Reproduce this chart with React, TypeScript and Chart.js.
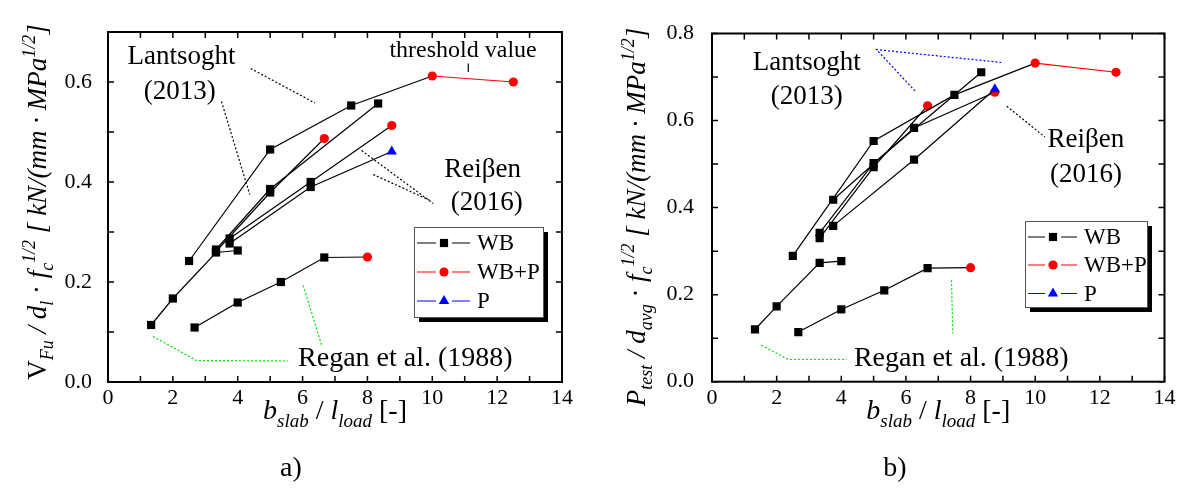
import { useEffect, useRef } from 'react';
import { Chart, registerables } from 'chart.js';

Chart.register(...registerables);

const FONT = '"Liberation Serif", "Times New Roman", Times, serif';
const BLACK = '#000000';
const RED = '#ff0000';
const BLUE = '#0000ff';
const GREEN = '#00e000';

// ---------------- Panel a) data ----------------
const aLant1X = [2.5, 5, 7.5, 10, 12.5];
const aLant1Y = [0.242, 0.465, 0.553, 0.612, 0.6];
const aLant1T = ['WB', 'WB', 'WB', 'WB+P', 'WB+P'];
const aLant2X = [3.33, 5, 8.33];
const aLant2Y = [0.265, 0.386, 0.557];
const aLant2T = ['WB', 'WB', 'WB'];
const aLant3X = [3.33, 5, 6.67];
const aLant3Y = [0.261, 0.379, 0.487];
const aLant3T = ['WB', 'WB', 'WB+P'];
const aReis1X = [3.75, 6.25, 8.75];
const aReis1Y = [0.287, 0.4, 0.513];
const aReis1T = ['WB', 'WB', 'WB+P'];
const aReis2X = [3.75, 6.25, 8.75];
const aReis2Y = [0.277, 0.39, 0.461];
const aReis2T = ['WB', 'WB', 'P'];
const aRegan1X = [1.33, 2, 3.33, 4];
const aRegan1Y = [0.114, 0.167, 0.259, 0.263];
const aRegan1T = ['WB', 'WB', 'WB', 'WB'];
const aRegan2X = [2.67, 4, 5.33, 6.67, 8];
const aRegan2Y = [0.109, 0.159, 0.2, 0.249, 0.25];
const aRegan2T = ['WB', 'WB', 'WB', 'WB', 'WB+P'];

// ---------------- Panel b) data ----------------
const bLant1X = [2.5, 5, 7.5, 10, 12.5];
const bLant1Y = [0.289, 0.553, 0.659, 0.732, 0.711];
const bLant1T = ['WB', 'WB', 'WB', 'WB+P', 'WB+P'];
const bLant2X = [3.33, 5, 8.33];
const bLant2Y = [0.342, 0.502, 0.711];
const bLant2T = ['WB', 'WB', 'WB'];
const bLant3X = [3.33, 5, 6.67];
const bLant3Y = [0.33, 0.493, 0.634];
const bLant3T = ['WB', 'WB', 'WB+P'];
const bReis1X = [3.75, 6.25, 8.75];
const bReis1Y = [0.418, 0.583, 0.665];
const bReis1T = ['WB', 'WB', 'WB+P'];
const bReis2X = [3.75, 6.25, 8.75];
const bReis2Y = [0.358, 0.51, 0.672];
const bReis2T = ['WB', 'WB', 'P'];
const bRegan1X = [1.33, 2, 3.33, 4];
const bRegan1Y = [0.12, 0.173, 0.273, 0.277];
const bRegan1T = ['WB', 'WB', 'WB', 'WB'];
const bRegan2X = [2.67, 4, 5.33, 6.67, 8];
const bRegan2Y = [0.114, 0.166, 0.21, 0.261, 0.262];
const bRegan2T = ['WB', 'WB', 'WB', 'WB', 'WB+P'];

const legendLabels = ['WB', 'WB+P', 'P'];
const xMax = 14;

type Run = { t: string; it?: boolean; sub?: boolean; sup?: boolean };

const X_TITLE: Run[] = [
  { t: 'b', it: true },
  { t: 'slab', it: true, sub: true },
  { t: ' / ' },
  { t: 'l', it: true },
  { t: 'load', it: true, sub: true },
  { t: ' [-]' },
];

const Y_TITLE_A: Run[] = [
  { t: 'V' },
  { t: 'Fu', it: true, sub: true },
  { t: ' / ', it: true },
  { t: 'd', it: true },
  { t: 'l', it: true, sub: true },
  { t: ' · ' },
  { t: 'f', it: true },
  { t: 'c', it: true, sub: true },
  { t: '1/2', it: true, sup: true },
  { t: ' [ kN/(mm · MPa', it: true },
  { t: '1/2', it: true, sup: true },
  { t: ']', it: true },
];

const Y_TITLE_B: Run[] = [
  { t: 'P', it: true },
  { t: 'test', it: true, sub: true },
  { t: ' / ', it: true },
  { t: 'd', it: true },
  { t: 'avg', it: true, sub: true },
  { t: ' · ' },
  { t: 'f', it: true },
  { t: 'c', it: true, sub: true },
  { t: '1/2', it: true, sup: true },
  { t: ' [ kN/(mm · MPa', it: true },
  { t: '1/2', it: true, sup: true },
  { t: ']', it: true },
];

function colorOf(t: string) {
  return t === 'WB' ? BLACK : t === 'WB+P' ? RED : BLUE;
}
function styleOf(t: string) {
  return t === 'WB' ? 'rect' : t === 'WB+P' ? 'circle' : 'triangle';
}
function radiusOf(t: string) {
  return t === 'WB' ? 5.8 : t === 'WB+P' ? 4.6 : 6;
}

function makeDataset(xs: number[], ys: number[], ts: string[]) {
  return {
    data: xs.map((x, i) => ({ x, y: ys[i] })),
    showLine: true,
    borderColor: BLACK,
    borderWidth: 1.2,
    pointStyle: ts.map(styleOf),
    pointRadius: ts.map(radiusOf),
    pointBackgroundColor: ts.map(colorOf),
    pointBorderColor: ts.map(colorOf),
    pointBorderWidth: 0,
    segment: {
      borderColor: (c: any) =>
        ts[c.p0DataIndex] === 'WB+P' && ts[c.p1DataIndex] === 'WB+P' ? RED : BLACK,
    },
  };
}

function runFont(r: Run, size: number) {
  const s = r.sub || r.sup ? Math.round(size * 0.68) : size;
  return `${r.it ? 'italic ' : ''}${s}px ${FONT}`;
}
function drawRich(ctx: CanvasRenderingContext2D, runs: Run[], x: number, y: number, size: number) {
  let w = 0;
  for (const r of runs) {
    ctx.font = runFont(r, size);
    w += ctx.measureText(r.t).width;
  }
  let cx = x - w / 2;
  ctx.textAlign = 'left';
  ctx.textBaseline = 'alphabetic';
  for (const r of runs) {
    ctx.font = runFont(r, size);
    const dy = r.sub ? size * 0.27 : r.sup ? -size * 0.42 : 0;
    ctx.fillText(r.t, cx, y + dy);
    cx += ctx.measureText(r.t).width;
  }
}

function drawMarker(ctx: CanvasRenderingContext2D, t: string, x: number, y: number) {
  const r = radiusOf(t);
  ctx.fillStyle = colorOf(t);
  ctx.beginPath();
  if (t === 'WB') {
    const s = r * Math.SQRT1_2;
    ctx.rect(x - s, y - s, 2 * s, 2 * s);
  } else if (t === 'WB+P') {
    ctx.arc(x, y, r, 0, Math.PI * 2);
  } else {
    ctx.moveTo(x, y - r);
    ctx.lineTo(x + r * 0.866, y + r * 0.5);
    ctx.lineTo(x - r * 0.866, y + r * 0.5);
    ctx.closePath();
  }
  ctx.fill();
}

interface TextAnn { t: string; x: number; y: number; size: number }
interface LineAnn { pts: number[][]; color: string; dash: number[] }
interface LegendCfg { x: number; y: number; w: number; h: number; rows: number[]; l0: number; l1: number; mk: number; tx: number }
interface PanelCfg {
  series: [number[], number[], string[]][];
  yMax: number;
  padTop: number;
  padRight: number;
  yAxisW: number;
  xAxisH: number;
  yTickPad: number;
  yTitle: Run[];
  yTitleX: number;
  yTitleY: number;
  label: string;
  labelX: number;
  texts: TextAnn[];
  lines: LineAnn[];
  legend: LegendCfg;
}

function makeDecor(cfg: PanelCfg) {
  return {
    id: 'decor',
    afterDraw(chart: any) {
      const ctx: CanvasRenderingContext2D = chart.ctx;
      const ca = chart.chartArea;
      const xs = chart.scales.x;
      const ys = chart.scales.y;
      const X = (v: number) => xs.getPixelForValue(v);
      const Y = (v: number) => ys.getPixelForValue(v);
      ctx.save();
      // annotation leader lines
      for (const ln of cfg.lines) {
        ctx.beginPath();
        ctx.strokeStyle = ln.color;
        ctx.lineWidth = 1.2;
        ctx.setLineDash(ln.dash);
        ln.pts.forEach((p, i) => (i ? ctx.lineTo(X(p[0]), Y(p[1])) : ctx.moveTo(X(p[0]), Y(p[1]))));
        ctx.stroke();
      }
      ctx.setLineDash([]);
      // annotation texts
      ctx.fillStyle = BLACK;
      ctx.textAlign = 'center';
      ctx.textBaseline = 'alphabetic';
      for (const t of cfg.texts) {
        ctx.font = `${t.size}px ${FONT}`;
        ctx.fillText(t.t, X(t.x), Y(t.y));
      }
      // frame
      ctx.strokeStyle = BLACK;
      ctx.lineWidth = 2;
      ctx.strokeRect(ca.left, ca.top, ca.right - ca.left, ca.bottom - ca.top);
      // ticks (inward, all four sides)
      const TL = 6;
      ctx.lineWidth = 1.5;
      ctx.beginPath();
      for (let v = 0; v <= xMax; v += 1) {
        const px = X(v);
        ctx.moveTo(px, ca.bottom);
        ctx.lineTo(px, ca.bottom - TL);
        ctx.moveTo(px, ca.top);
        ctx.lineTo(px, ca.top + TL);
      }
      const nY = Math.round(cfg.yMax * 10);
      for (let k = 0; k <= nY; k++) {
        const py = Y(k / 10);
        ctx.moveTo(ca.left, py);
        ctx.lineTo(ca.left + TL, py);
        ctx.moveTo(ca.right, py);
        ctx.lineTo(ca.right - TL, py);
      }
      ctx.stroke();
      // legend
      const L = cfg.legend;
      ctx.fillStyle = BLACK;
      ctx.fillRect(L.x + 5, L.y + 5, L.w, L.h);
      ctx.fillStyle = '#ffffff';
      ctx.fillRect(L.x, L.y, L.w, L.h);
      ctx.strokeStyle = '#555555';
      ctx.lineWidth = 1;
      ctx.strokeRect(L.x + 0.5, L.y + 0.5, L.w, L.h);
      legendLabels.forEach((lab, i) => {
        const yy = L.y + L.rows[i];
        ctx.strokeStyle = colorOf(lab);
        ctx.lineWidth = 1.2;
        ctx.beginPath();
        ctx.moveTo(L.x + L.l0, yy);
        ctx.lineTo(L.x + L.mk - 8, yy);
        ctx.moveTo(L.x + L.mk + 8, yy);
        ctx.lineTo(L.x + L.l1, yy);
        ctx.stroke();
        drawMarker(ctx, lab, L.x + L.mk, yy);
        ctx.fillStyle = BLACK;
        ctx.font = `23px ${FONT}`;
        ctx.textAlign = 'left';
        ctx.textBaseline = 'middle';
        ctx.fillText(lab, L.x + L.tx, yy + 1);
      });
      // axis titles
      ctx.fillStyle = BLACK;
      ctx.save();
      ctx.translate(cfg.yTitleX, cfg.yTitleY);
      ctx.rotate(-Math.PI / 2);
      drawRich(ctx, cfg.yTitle, 0, 0, 27);
      ctx.restore();
      drawRich(ctx, X_TITLE, (ca.left + ca.right) / 2, 419, 28);
      ctx.font = `28px ${FONT}`;
      ctx.textAlign = 'center';
      ctx.textBaseline = 'alphabetic';
      ctx.fillText(cfg.label, cfg.labelX, 476);
      ctx.restore();
    },
  };
}

const panelA: PanelCfg = {
  series: [
    [aReis2X, aReis2Y, aReis2T],
    [aReis1X, aReis1Y, aReis1T],
    [aLant1X, aLant1Y, aLant1T],
    [aLant2X, aLant2Y, aLant2T],
    [aLant3X, aLant3Y, aLant3T],
    [aRegan1X, aRegan1Y, aRegan1T],
    [aRegan2X, aRegan2Y, aRegan2T],
  ],
  yMax: 0.7,
  padTop: 32,
  padRight: 30,
  yAxisW: 108,
  xAxisH: 111,
  yTickPad: 8,
  yTitle: Y_TITLE_A,
  yTitleX: 46,
  yTitleY: 202,
  label: 'a)',
  labelX: 291,
  texts: [
    { t: 'Lantsoght', x: 2.27, y: 0.637, size: 27 },
    { t: '(2013)', x: 2.21, y: 0.567, size: 27 },
    { t: 'threshold value', x: 10.95, y: 0.65, size: 24 },
    { t: 'Reiβen', x: 11.55, y: 0.41, size: 27 },
    { t: '(2016)', x: 11.68, y: 0.345, size: 27 },
    { t: 'Regan et al. (1988)', x: 9.17, y: 0.032, size: 28 },
  ],
  lines: [
    { pts: [[4.4, 0.627], [6.38, 0.558]], color: BLACK, dash: [2, 2] },
    { pts: [[3.5, 0.561], [4.37, 0.375]], color: BLACK, dash: [2, 2] },
    { pts: [[7.82, 0.463], [10.03, 0.357]], color: BLACK, dash: [2, 2] },
    { pts: [[8.18, 0.415], [9.93, 0.363]], color: BLACK, dash: [2, 2] },
    { pts: [[11.11, 0.637], [11.11, 0.62]], color: BLACK, dash: [] },
    { pts: [[1.39, 0.091], [2.73, 0.043], [5.56, 0.042]], color: GREEN, dash: [2, 2] },
    { pts: [[6.02, 0.193], [6.59, 0.073]], color: GREEN, dash: [2, 2] },
  ],
  legend: { x: 414, y: 227, w: 129, h: 90, rows: [16, 45, 74], l0: 3, l1: 56, mk: 30, tx: 63 },
};

const panelB: PanelCfg = {
  series: [
    [bReis2X, bReis2Y, bReis2T],
    [bReis1X, bReis1Y, bReis1T],
    [bLant1X, bLant1Y, bLant1T],
    [bLant2X, bLant2Y, bLant2T],
    [bLant3X, bLant3Y, bLant3T],
    [bRegan1X, bRegan1Y, bRegan1T],
    [bRegan2X, bRegan2Y, bRegan2T],
  ],
  yMax: 0.8,
  padTop: 33.5,
  padRight: 20.5,
  yAxisW: 120,
  xAxisH: 111.3,
  yTickPad: 10,
  yTitle: Y_TITLE_B,
  yTitleX: 53,
  yTitleY: 217,
  label: 'b)',
  labelX: 303,
  texts: [
    { t: 'Lantsoght', x: 2.93, y: 0.715, size: 27 },
    { t: '(2013)', x: 2.93, y: 0.639, size: 27 },
    { t: 'Reiβen', x: 11.57, y: 0.539, size: 27 },
    { t: '(2016)', x: 11.57, y: 0.459, size: 27 },
    { t: 'Regan et al. (1988)', x: 7.71, y: 0.036, size: 28 },
  ],
  lines: [
    { pts: [[6.28, 0.668], [5.09, 0.763], [9.01, 0.733]], color: BLUE, dash: [2, 2] },
    { pts: [[9.12, 0.633], [10.3, 0.562]], color: BLACK, dash: [2, 2] },
    { pts: [[1.53, 0.084], [2.36, 0.051], [4.16, 0.051]], color: GREEN, dash: [2, 2] },
    { pts: [[7.41, 0.233], [7.45, 0.111]], color: GREEN, dash: [2, 2] },
  ],
  legend: { x: 433, y: 221, w: 122, h: 86, rows: [16, 44, 72.5], l0: 3, l1: 52, mk: 28, tx: 59 },
};

function Panel({ cfg, left, width }: { cfg: PanelCfg; left: number; width: number }) {
  const ref = useRef<HTMLCanvasElement>(null);
  useEffect(() => {
    if (!ref.current) return;
    const tickFont = { family: FONT, size: 22 };
    const chart = new Chart(ref.current, {
      type: 'scatter',
      data: { datasets: cfg.series.map(([x, y, t]) => makeDataset(x, y, t)) as any },
      options: {
        responsive: false,
        animation: false,
        devicePixelRatio: 1,
        events: [],
        layout: { padding: { left: 0, top: cfg.padTop, right: cfg.padRight, bottom: 0 } },
        plugins: { legend: { display: false }, tooltip: { enabled: false } },
        scales: {
          x: {
            type: 'linear',
            min: 0,
            max: xMax,
            grid: { display: false },
            border: { display: false },
            ticks: {
              stepSize: 2,
              font: tickFont,
              color: BLACK,
              padding: -5,
              maxRotation: 0,
              callback: (v: any) => String(v),
            },
            afterFit: (s: any) => {
              s.height = cfg.xAxisH;
            },
          },
          y: {
            type: 'linear',
            min: 0,
            max: cfg.yMax,
            grid: { display: false },
            border: { display: false },
            ticks: {
              stepSize: 0.2,
              font: tickFont,
              color: BLACK,
              padding: cfg.yTickPad,
              callback: (v: any) => Number(v).toFixed(1),
            },
            afterBuildTicks: (s: any) => {
              s.ticks = s.ticks.filter((t: any) => Math.abs(t.value * 5 - Math.round(t.value * 5)) < 1e-6);
            },
            afterFit: (s: any) => {
              s.width = cfg.yAxisW;
            },
          },
        },
      } as any,
      plugins: [makeDecor(cfg)],
    });
    return () => chart.destroy();
  }, [cfg]);
  return (
    <canvas
      ref={ref}
      width={width}
      height={493}
      style={{ position: 'absolute', left, top: 0, width, height: 493 }}
    />
  );
}

export default function App() {
  return (
    <div style={{ position: 'absolute', left: 0, top: 0, width: 1185, height: 493, background: '#ffffff' }}>
      <Panel cfg={panelA} left={0} width={592} />
      <Panel cfg={panelB} left={592} width={593} />
    </div>
  );
}
